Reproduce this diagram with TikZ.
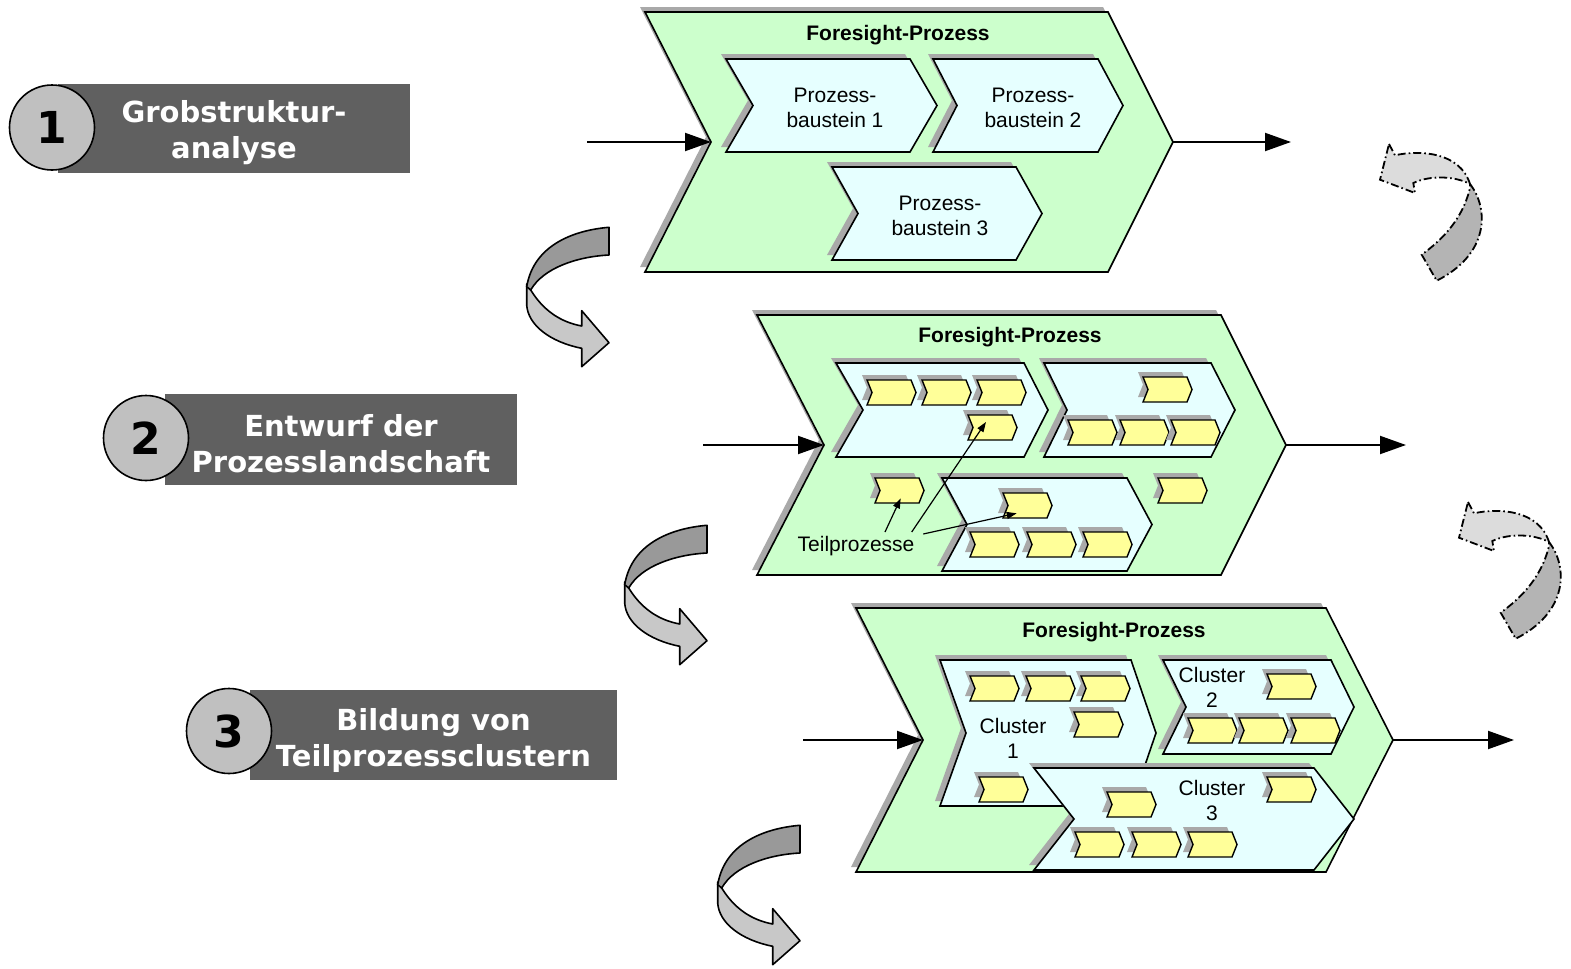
\documentclass[tikz,border=0pt]{standalone}
\usepackage{fontspec}
\setmainfont{Liberation Sans}
\newfontfamily\lblfont{DejaVu Sans}
\usetikzlibrary{arrows.meta}
\definecolor{chgreen}{HTML}{CCFFCC}
\definecolor{chcyan}{HTML}{E6FFFF}
\definecolor{chyellow}{HTML}{FFFF99}
\definecolor{shadowc}{HTML}{A9A9A9}
\definecolor{lblgray}{HTML}{606060}
\definecolor{circgray}{HTML}{C0C0C0}
\definecolor{arrdark}{HTML}{999999}
\definecolor{arrlight}{HTML}{C8C8C8}
\definecolor{darrdark}{HTML}{B4B4B4}
\definecolor{darrlight}{HTML}{DCDCDC}

% #1 style, #2 L, #3 R, #4 T, #5 B, #6 notch depth, #7 tip depth, #8 name
\newcommand\chev[8]{%
  \fill[shadowc,shift={(-5,-5)}] (#2,#4) -- (#3,#4) -- ({#3+#7},{(#4+#5)/2}) -- (#3,#5) -- (#2,#5) -- ({#2+#6},{(#4+#5)/2}) -- cycle;
  \draw[#1] (#2,#4) -- (#3,#4) -- ({#3+#7},{(#4+#5)/2}) -- (#3,#5) -- (#2,#5) -- ({#2+#6},{(#4+#5)/2}) -- cycle;
  \coordinate (#8-in) at ({#2+#6},{(#4+#5)/2});
  \coordinate (#8-out) at ({#3+#7},{(#4+#5)/2});
}
\newcommand\ych[3]{\chev{ybox}{#1}{#1+44}{#2}{#2+25}{5}{5}{#3}}

\newcommand\bentarrow[2]{%
  \begin{scope}[shift={(#1,#2)}]
    \draw[benta, fill=arrlight] (526.7,284) -- (526.7,305) .. controls (528,325) and (550,342) .. (581.7,348.3)
      -- (581.7,366.7) -- (609,342.7) -- (581.7,310.7) -- (581.7,326)
      .. controls (560,322) and (543,310) .. (530.7,290) -- cycle;
    \draw[benta, fill=arrdark] (609,227.3) .. controls (576.7,230) and (534,243.3) .. (526.7,286.7)
      -- (530.7,290) .. controls (543.3,268) and (576.7,256.7) .. (609,255) -- cycle;
  \end{scope}}

\newcommand\dasharrow[2]{%
  \begin{scope}[shift={(#1,#2)}]
    \draw[darr, fill=darrlight] (1389,144) -- (1395,155.3) .. controls (1420,149.7) and (1460,152) .. (1470,184)
      .. controls (1455,176) and (1430,175) .. (1413.3,183) -- (1415,193) -- (1380,179.7) -- cycle;
    \draw[darr, fill=darrdark] (1470,184) .. controls (1490,210) and (1488,255) .. (1436.7,280.7)
      -- (1421.7,254.7) .. controls (1440,241.3) and (1462,221.3) .. (1470,188) -- cycle;
  \end{scope}}

\tikzset{
  outerbox/.style={draw=black, fill=chgreen, line width=0.8pt},
  cbox/.style={draw=black, fill=chcyan, line width=0.8pt},
  ybox/.style={draw=black, fill=chyellow, line width=0.7pt},
  flow/.style={line width=1pt, -{Triangle[length=13pt,width=9pt]}},
  pointer/.style={line width=0.6pt, -{Triangle[length=5pt,width=3.5pt]}},
  benta/.style={draw=black, line width=0.8pt, line join=round},
  darr/.style={draw=black, line width=0.9pt, dash pattern=on 4pt off 1.5pt on 0.8pt off 1.5pt},
  lblrect/.style={fill=lblgray, inner sep=0pt},
  lbltext/.style={text=white, inner sep=0pt, align=center,
    font=\lblfont\bfseries\fontsize{14.5}{18}\selectfont},
  numcirc/.style={circle, draw=black, fill=circgray, line width=0.8pt, minimum size=42.5pt, inner sep=0pt,
    font=\lblfont\bfseries\fontsize{22}{22}\selectfont},
  ttl/.style={font=\bfseries\fontsize{10.5}{12.5}\selectfont},
  txt/.style={align=center, inner sep=0pt, font=\fontsize{10.5}{12.5}\selectfont},
}

\begin{document}
\begin{tikzpicture}[x=0.5pt, y=-0.5pt]
\useasboundingbox (0,0) rectangle (1571,969);

% ---------- left labels ----------
\node[lblrect, minimum width=176pt, minimum height=44.5pt] (l1) at (234,128.5) {};
\node[lbltext] (l1t) at (234,133) {Grobstruktur-\\analyse};
\node[numcirc] (n1) at (52,127.5) {1};
\node[lblrect, minimum width=176pt, minimum height=45.5pt] (l2) at (341,439.5) {};
\node[lbltext] (l2t) at (341,443.5) {Entwurf der\\Prozesslandschaft};
\node[numcirc] (n2) at (146,438) {2};
\node[lblrect, minimum width=183.5pt, minimum height=45pt] (l3) at (433.5,735) {};
\node[lbltext] (l3t) at (433.5,740) {Bildung von\\Teilprozessclustern};
\node[numcirc] (n3) at (229,731) {3};

% ---------- bent arrows ----------
\bentarrow{0}{0}
\bentarrow{98}{298}
\bentarrow{191}{598}

% ---------- dashed return arrows ----------
\dasharrow{0}{0}
\dasharrow{79}{358}

% ---------- chevron 1 ----------
\chev{outerbox}{645}{1108}{12}{272}{66}{65}{c1}
\node[ttl] (t1) at (898,35) {Foresight-Prozess};
\chev{cbox}{726}{910}{59}{152}{27}{27}{b1}
\chev{cbox}{933}{1098}{59}{152}{24}{25}{b2}
\chev{cbox}{832}{1016}{167}{260}{26}{26}{b3}
\node[txt] (b1t) at (835,108) {Prozess-\\baustein 1};
\node[txt] (b2t) at (1033,108) {Prozess-\\baustein 2};
\node[txt] (b3t) at (940,215.5) {Prozess-\\baustein 3};
\coordinate (s1) at (587,142);
\coordinate (e1) at (1291,142);
\draw[flow] (s1) -- (c1-in);
\draw[flow] (c1-out) -- (e1);

% ---------- chevron 2 ----------
\chev{outerbox}{757}{1221}{315}{575}{67}{65}{c2}
\node[ttl] (t2) at (1010,337.5) {Foresight-Prozess};
\chev{cbox}{836}{1024}{363}{457}{27}{24}{ba}
\chev{cbox}{1044}{1211}{363}{457}{23}{24}{bb}
\chev{cbox}{942}{1127}{478}{571}{25}{25}{bc}
\ych{867}{380}{a1}\ych{922}{380}{a2}\ych{977}{380}{a3}\ych{968}{415}{a4}
\ych{1143}{377}{bb1}\ych{1068}{420}{bb2}\ych{1120}{420}{bb3}\ych{1171}{420}{bb4}
\ych{875}{478}{o1}\ych{1158}{478}{o2}
\ych{1003}{493}{cc1}\ych{970}{532}{cc2}\ych{1027}{532}{cc3}\ych{1083}{532}{cc4}
\node[txt] (tp) at (856,546) {Teilprozesse};
\coordinate (p1s) at (885,532);
\coordinate (p1e) at (900.7,498.3);
\coordinate (p2s) at (911.7,532);
\coordinate (p2e) at (986,422);
\coordinate (p3s) at (923.3,534);
\coordinate (p3e) at (1016.7,513.3);
\draw[pointer] (p1s) -- (p1e);
\draw[pointer] (p2s) -- (p2e);
\draw[pointer] (p3s) -- (p3e);
\coordinate (s2) at (703,445);
\coordinate (e2) at (1406,445);
\draw[flow] (s2) -- (c2-in);
\draw[flow] (c2-out) -- (e2);

% ---------- chevron 3 ----------
\chev{outerbox}{856}{1326}{608}{872}{67}{67}{c3}
\node[ttl] (t3) at (1114,632.5) {Foresight-Prozess};
\chev{cbox}{940}{1131}{660}{806}{26}{25}{cl1}
\ych{970}{676}{k1}\ych{1026}{676}{k2}\ych{1081}{676}{k3}\ych{1074}{712}{k4}\ych{979}{777}{k5}
\chev{cbox}{1163}{1331}{660}{754}{23}{23}{cl2}
\ych{1267}{674}{m1}\ych{1188}{718}{m2}\ych{1239}{718}{m3}\ych{1291}{718}{m4}
\chev{cbox}{1034}{1314}{768}{870}{40}{40}{cl3}
\ych{1267}{777}{q1}\ych{1107}{792}{q2}\ych{1075}{832}{q3}\ych{1132}{832}{q4}\ych{1188}{832}{q5}
\node[txt] (cl1t) at (1013,738) {Cluster\\1};
\node[txt] (cl2t) at (1212,687) {Cluster\\2};
\node[txt] (cl3t) at (1212,800) {Cluster\\3};
\coordinate (s3) at (803,740);
\coordinate (e3) at (1514,740);
\draw[flow] (s3) -- (c3-in);
\draw[flow] (c3-out) -- (e3);
\end{tikzpicture}
\end{document}
